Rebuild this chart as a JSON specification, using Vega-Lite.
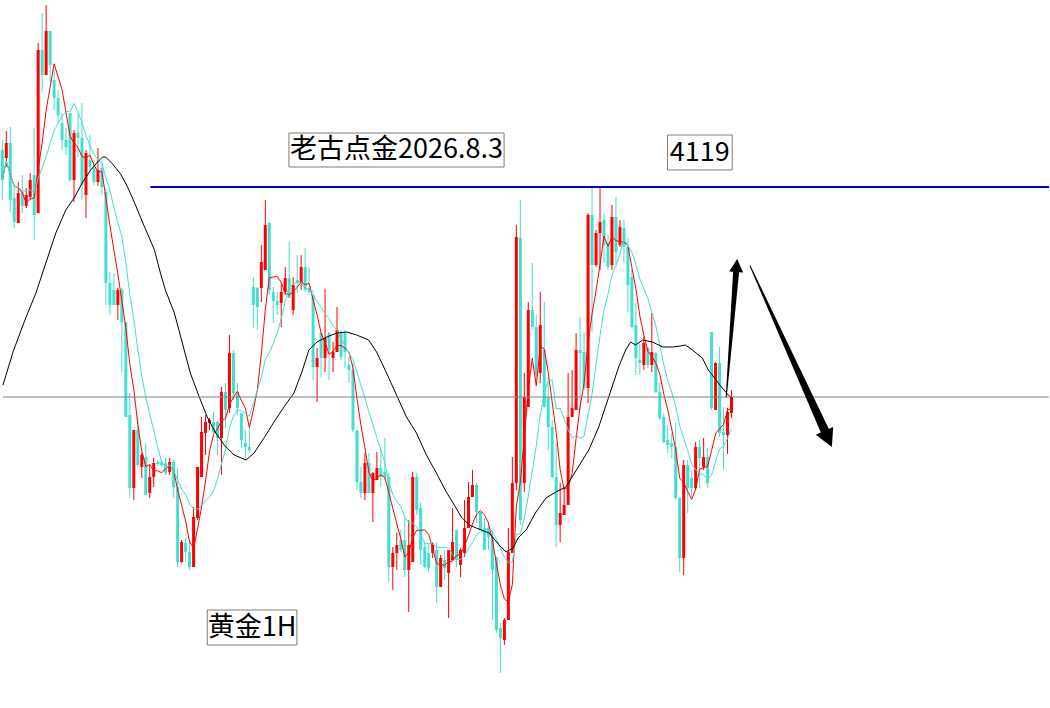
{
  "$schema": "https://vega.github.io/schema/vega-lite/v6.json",
  "autosize": {"type": "fit", "contains": "padding"},
  "width": 1050,
  "height": 708,
  "padding": 0,
  "background": "white",
  "config": {"view": {"stroke": null}},
  "datasets": {
    "candles": [
      {"i":0,"o":4137.5,"h":4142.5,"l":4112.5,"c":4122.5},
      {"i":1,"o":4133.5,"h":4147,"l":4129,"c":4141},
      {"i":2,"o":4141,"h":4149,"l":4106.5,"c":4112.5},
      {"i":3,"o":4113.5,"h":4119,"l":4098.5,"c":4101.5},
      {"i":4,"o":4101,"h":4121.5,"l":4101,"c":4116},
      {"i":5,"o":4116.5,"h":4125,"l":4106,"c":4109.5},
      {"i":6,"o":4109.5,"h":4118.5,"l":4108.5,"c":4115},
      {"i":7,"o":4114,"h":4126,"l":4112.5,"c":4122.5},
      {"i":8,"o":4125,"h":4148.5,"l":4092.5,"c":4105},
      {"i":9,"o":4106,"h":4191,"l":4106,"c":4187.5},
      {"i":10,"o":4187.5,"h":4206,"l":4166.5,"c":4175},
      {"i":11,"o":4175,"h":4210,"l":4175,"c":4197},
      {"i":12,"o":4197,"h":4197,"l":4171.5,"c":4180},
      {"i":13,"o":4172.5,"h":4177.5,"l":4157.5,"c":4163.5},
      {"i":14,"o":4163.5,"h":4167.5,"l":4151,"c":4155},
      {"i":15,"o":4151,"h":4156,"l":4137.5,"c":4142.5},
      {"i":16,"o":4142.5,"h":4148.5,"l":4135,"c":4139},
      {"i":17,"o":4156,"h":4156,"l":4121.5,"c":4122.5},
      {"i":18,"o":4122.5,"h":4147.5,"l":4111.5,"c":4146},
      {"i":19,"o":4146,"h":4156,"l":4134,"c":4143.5},
      {"i":20,"o":4143.5,"h":4161,"l":4112.5,"c":4120},
      {"i":21,"o":4115,"h":4137.5,"l":4103.5,"c":4136},
      {"i":22,"o":4132.5,"h":4145,"l":4126,"c":4129},
      {"i":23,"o":4128.5,"h":4132.5,"l":4120,"c":4121.5},
      {"i":24,"o":4121.5,"h":4138.5,"l":4119.5,"c":4127.5},
      {"i":25,"o":4128.5,"h":4132.5,"l":4115,"c":4119},
      {"i":26,"o":4116.5,"h":4118.5,"l":4060,"c":4071},
      {"i":27,"o":4071,"h":4076.5,"l":4055,"c":4060},
      {"i":28,"o":4067.5,"h":4076,"l":4060,"c":4060},
      {"i":29,"o":4060,"h":4068.5,"l":4052.5,"c":4067.5},
      {"i":30,"o":4067.5,"h":4068.5,"l":4026.5,"c":4051.5},
      {"i":31,"o":4051.5,"h":4051.5,"l":4004,"c":4004},
      {"i":32,"o":4005,"h":4016,"l":3963.5,"c":3968.5},
      {"i":33,"o":3968.5,"h":3997.5,"l":3962.5,"c":3997.5},
      {"i":34,"o":3997.5,"h":4004,"l":3978.5,"c":3980},
      {"i":35,"o":3979,"h":3986,"l":3973.5,"c":3985},
      {"i":36,"o":3984,"h":3991,"l":3965,"c":3965},
      {"i":37,"o":3966,"h":3980,"l":3963.5,"c":3974},
      {"i":38,"o":3974,"h":3983.5,"l":3969,"c":3981},
      {"i":39,"o":3981.5,"h":3982.5,"l":3979.5,"c":3980.5},
      {"i":40,"o":3981.5,"h":3982.5,"l":3979,"c":3980},
      {"i":41,"o":3981,"h":3983.5,"l":3975,"c":3976},
      {"i":42,"o":3976.5,"h":3983.5,"l":3975,"c":3981.5},
      {"i":43,"o":3981.5,"h":3982.5,"l":3963.5,"c":3969},
      {"i":44,"o":3969,"h":3978.5,"l":3929,"c":3931.5},
      {"i":45,"o":3931.5,"h":3942.5,"l":3931,"c":3941.5},
      {"i":46,"o":3941,"h":3943.5,"l":3931.5,"c":3936.5},
      {"i":47,"o":3936.5,"h":3942.5,"l":3927.5,"c":3929},
      {"i":48,"o":3929,"h":3959,"l":3929,"c":3954},
      {"i":49,"o":3953.5,"h":3979,"l":3952.5,"c":3979},
      {"i":50,"o":3974,"h":4004,"l":3974,"c":3996.5},
      {"i":51,"o":3996,"h":4005,"l":3985,"c":4001.5},
      {"i":52,"o":4001,"h":4003.5,"l":3997.5,"c":4002.5},
      {"i":53,"o":4001.5,"h":4006.5,"l":3996,"c":3996.5},
      {"i":54,"o":4001.5,"h":4002,"l":3985,"c":3993.5},
      {"i":55,"o":3993.5,"h":4019,"l":3975,"c":4016.5},
      {"i":56,"o":4016.5,"h":4021,"l":3998.5,"c":4007.5},
      {"i":57,"o":4008.5,"h":4045,"l":4006,"c":4036},
      {"i":58,"o":4036,"h":4037.5,"l":4012.5,"c":4016},
      {"i":59,"o":4016.5,"h":4021,"l":4005,"c":4008.5},
      {"i":60,"o":4006,"h":4006,"l":3988.5,"c":3992.5},
      {"i":61,"o":3991,"h":3997.5,"l":3983.5,"c":3989},
      {"i":62,"o":3989,"h":3998.5,"l":3986.5,"c":3987.5},
      {"i":63,"o":4069,"h":4074,"l":4048.5,"c":4060},
      {"i":64,"o":4068.5,"h":4069,"l":4047.5,"c":4059},
      {"i":65,"o":4068.5,"h":4090,"l":4061.5,"c":4081.5},
      {"i":66,"o":4077.5,"h":4112.5,"l":4077.5,"c":4100},
      {"i":67,"o":4101,"h":4101.5,"l":4065,"c":4067.5},
      {"i":68,"o":4066.5,"h":4069,"l":4051,"c":4062},
      {"i":69,"o":4062,"h":4066.5,"l":4055,"c":4060},
      {"i":70,"o":4061,"h":4071,"l":4049,"c":4066.5},
      {"i":71,"o":4066.5,"h":4079,"l":4065,"c":4073.5},
      {"i":72,"o":4073.5,"h":4091.5,"l":4063.5,"c":4063.5},
      {"i":73,"o":4057.5,"h":4074,"l":4055,"c":4070},
      {"i":74,"o":4072.5,"h":4085,"l":4066,"c":4071},
      {"i":75,"o":4071,"h":4085,"l":4067.5,"c":4079},
      {"i":76,"o":4079,"h":4088.5,"l":4066.5,"c":4067.5},
      {"i":77,"o":4068.5,"h":4079,"l":4065,"c":4066.5},
      {"i":78,"o":4065,"h":4067.5,"l":4022.5,"c":4029},
      {"i":79,"o":4029,"h":4038.5,"l":4011.5,"c":4033.5},
      {"i":80,"o":4046,"h":4046.5,"l":4024,"c":4033.5},
      {"i":81,"o":4033.5,"h":4068,"l":4026.5,"c":4043.5},
      {"i":82,"o":4046,"h":4046.5,"l":4022.5,"c":4037.5},
      {"i":83,"o":4033.5,"h":4041.5,"l":4026.5,"c":4036.5},
      {"i":84,"o":4036.5,"h":4059,"l":4036.5,"c":4047.5},
      {"i":85,"o":4046.5,"h":4047.5,"l":4032.5,"c":4034},
      {"i":86,"o":4046,"h":4047.5,"l":4028.5,"c":4036.5},
      {"i":87,"o":4030,"h":4034,"l":4021,"c":4027.5},
      {"i":88,"o":4027.5,"h":4031,"l":3996.5,"c":3997.5},
      {"i":89,"o":3997.5,"h":3997.5,"l":3967.5,"c":3971.5},
      {"i":90,"o":3971.5,"h":3979,"l":3963.5,"c":3966},
      {"i":91,"o":3966,"h":3986,"l":3962.5,"c":3981},
      {"i":92,"o":3981,"h":3986,"l":3966,"c":3966},
      {"i":93,"o":3966,"h":3976.5,"l":3951.5,"c":3976},
      {"i":94,"o":3972.5,"h":3986.5,"l":3972.5,"c":3978.5},
      {"i":95,"o":3978.5,"h":3987.5,"l":3969,"c":3974},
      {"i":96,"o":3976.5,"h":3993.5,"l":3972.5,"c":3974},
      {"i":97,"o":3974,"h":3976,"l":3921.5,"c":3929},
      {"i":98,"o":3929,"h":3939,"l":3917.5,"c":3936},
      {"i":99,"o":3936,"h":3946,"l":3927.5,"c":3940},
      {"i":100,"o":3942.5,"h":3947.5,"l":3936.5,"c":3937.5},
      {"i":101,"o":3942.5,"h":3954,"l":3924,"c":3927.5},
      {"i":102,"o":3927.5,"h":3952.5,"l":3906.5,"c":3940},
      {"i":103,"o":3931.5,"h":3976.5,"l":3931.5,"c":3974},
      {"i":104,"o":3974,"h":3976,"l":3955,"c":3957.5},
      {"i":105,"o":3958.5,"h":3961.5,"l":3930,"c":3937.5},
      {"i":106,"o":3939,"h":3941.5,"l":3928.5,"c":3929},
      {"i":107,"o":3936,"h":3941,"l":3926,"c":3928.5},
      {"i":108,"o":3936,"h":3941.5,"l":3933.5,"c":3940},
      {"i":109,"o":3937.5,"h":3941.5,"l":3911,"c":3919},
      {"i":110,"o":3919,"h":3935,"l":3919,"c":3933.5},
      {"i":111,"o":3932.5,"h":3937.5,"l":3922.5,"c":3928.5},
      {"i":112,"o":3926,"h":3937.5,"l":3903.5,"c":3937.5},
      {"i":113,"o":3932.5,"h":3958.5,"l":3932.5,"c":3941.5},
      {"i":114,"o":3947.5,"h":3947.5,"l":3929,"c":3932.5},
      {"i":115,"o":3930,"h":3938.5,"l":3924,"c":3937.5},
      {"i":116,"o":3936,"h":3962.5,"l":3934,"c":3948.5},
      {"i":117,"o":3948.5,"h":3971.5,"l":3948.5,"c":3964},
      {"i":118,"o":3964,"h":3977.5,"l":3964,"c":3970},
      {"i":119,"o":3970,"h":3971,"l":3951,"c":3956.5},
      {"i":120,"o":3956.5,"h":3956.5,"l":3947.5,"c":3947.5},
      {"i":121,"o":3948.5,"h":3953.5,"l":3937.5,"c":3937.5},
      {"i":122,"o":3948.5,"h":3951.5,"l":3937.5,"c":3944},
      {"i":123,"o":3944,"h":3947.5,"l":3902.5,"c":3927.5},
      {"i":124,"o":3934,"h":3934,"l":3896,"c":3897.5},
      {"i":125,"o":3898.5,"h":3901,"l":3876,"c":3893.5},
      {"i":126,"o":3892.5,"h":3903.5,"l":3890,"c":3902.5},
      {"i":127,"o":3902.5,"h":3948.5,"l":3902.5,"c":3936.5},
      {"i":128,"o":3936,"h":3984,"l":3936,"c":3971},
      {"i":129,"o":3971,"h":4100,"l":3967.5,"c":4094},
      {"i":130,"o":4093.5,"h":4112.5,"l":3950,"c":3952.5},
      {"i":131,"o":3971,"h":4026,"l":3966.5,"c":4014},
      {"i":132,"o":4009,"h":4061.5,"l":4009,"c":4057.5},
      {"i":133,"o":4057.5,"h":4081,"l":4047.5,"c":4049},
      {"i":134,"o":4049,"h":4055,"l":4023.5,"c":4025},
      {"i":135,"o":4026,"h":4066.5,"l":4021,"c":4050},
      {"i":136,"o":4037.5,"h":4061.5,"l":4008.5,"c":4009},
      {"i":137,"o":4014,"h":4024,"l":3987.5,"c":3999},
      {"i":138,"o":3999,"h":4002.5,"l":3973.5,"c":3974},
      {"i":139,"o":3974,"h":3991,"l":3939,"c":3950},
      {"i":140,"o":3950,"h":3971,"l":3941.5,"c":3956},
      {"i":141,"o":3955,"h":3969,"l":3955,"c":3960},
      {"i":142,"o":3960,"h":4026,"l":3960,"c":4004},
      {"i":143,"o":4004,"h":4027.5,"l":4004,"c":4008.5},
      {"i":144,"o":4007.5,"h":4046,"l":4007.5,"c":4037.5},
      {"i":145,"o":4037.5,"h":4054,"l":4007.5,"c":4036},
      {"i":146,"o":4036.5,"h":4046,"l":4017.5,"c":4018.5},
      {"i":147,"o":4018.5,"h":4106,"l":4011,"c":4105},
      {"i":148,"o":4105,"h":4119,"l":4046.5,"c":4080},
      {"i":149,"o":4080,"h":4097.5,"l":4079,"c":4096},
      {"i":150,"o":4096,"h":4118.5,"l":4077.5,"c":4101.5},
      {"i":151,"o":4102.5,"h":4106,"l":4081,"c":4090},
      {"i":152,"o":4091,"h":4095,"l":4077.5,"c":4079},
      {"i":153,"o":4080,"h":4110,"l":4077.5,"c":4104},
      {"i":154,"o":4104,"h":4114,"l":4080,"c":4086.5},
      {"i":155,"o":4090,"h":4102.5,"l":4089,"c":4099},
      {"i":156,"o":4098.5,"h":4102.5,"l":4081,"c":4089},
      {"i":157,"o":4089,"h":4093.5,"l":4056.5,"c":4070},
      {"i":158,"o":4074,"h":4077.5,"l":4048.5,"c":4049},
      {"i":159,"o":4050,"h":4061,"l":4025,"c":4033.5},
      {"i":160,"o":4032.5,"h":4041,"l":4025,"c":4031},
      {"i":161,"o":4030,"h":4044,"l":4027.5,"c":4041},
      {"i":162,"o":4038.5,"h":4039,"l":4028.5,"c":4030},
      {"i":163,"o":4030,"h":4056,"l":4026.5,"c":4036.5},
      {"i":164,"o":4036,"h":4036.5,"l":4016,"c":4016.5},
      {"i":165,"o":4016.5,"h":4021,"l":4002.5,"c":4003.5},
      {"i":166,"o":4004,"h":4006,"l":3991,"c":3991.5},
      {"i":167,"o":3992.5,"h":4000,"l":3986,"c":3990},
      {"i":168,"o":3991,"h":3996,"l":3983.5,"c":3989},
      {"i":169,"o":3989,"h":4001,"l":3962.5,"c":3963.5},
      {"i":170,"o":3963.5,"h":3964,"l":3926.5,"c":3933.5},
      {"i":171,"o":3933.5,"h":3982.5,"l":3925,"c":3980},
      {"i":172,"o":3980,"h":3982.5,"l":3956,"c":3968.5},
      {"i":173,"o":3973.5,"h":3977.5,"l":3964,"c":3968.5},
      {"i":174,"o":3968.5,"h":3991.5,"l":3967.5,"c":3989},
      {"i":175,"o":3989,"h":3992.5,"l":3968.5,"c":3983.5},
      {"i":176,"o":3979,"h":3993.5,"l":3977.5,"c":3984},
      {"i":177,"o":3984,"h":3988.5,"l":3968.5,"c":3971},
      {"i":178,"o":4046.5,"h":4046.5,"l":4007.5,"c":4008.5},
      {"i":179,"o":4007.5,"h":4031.5,"l":4007.5,"c":4031},
      {"i":180,"o":4031,"h":4039,"l":3994,"c":3996},
      {"i":181,"o":3996.5,"h":4009,"l":3977.5,"c":3995},
      {"i":182,"o":3995,"h":4008.5,"l":3985.5,"c":4006.5},
      {"i":183,"o":4006,"h":4017.5,"l":4003.5,"c":4014}
    ],
    "slowMa": [
      {"i":0.18,"v":4020},{"i":2.68,"v":4036.5},{"i":5.68,"v":4052.5},{"i":8.43,"v":4066},
      {"i":10.93,"v":4081},{"i":13.43,"v":4096},{"i":15.93,"v":4107.5},{"i":18.18,"v":4114},
      {"i":20.18,"v":4121.5},{"i":22.18,"v":4127.5},{"i":23.93,"v":4131.5},{"i":25.18,"v":4134},
      {"i":25.93,"v":4134},{"i":27.68,"v":4130.5},{"i":29.68,"v":4125.5},{"i":31.18,"v":4120},
      {"i":32.68,"v":4113.5},{"i":35.18,"v":4101.5},{"i":38.18,"v":4087.5},{"i":39.68,"v":4076},
      {"i":40.93,"v":4067.5},{"i":43.18,"v":4056},{"i":45.18,"v":4041},{"i":47.18,"v":4026},
      {"i":49.43,"v":4014},{"i":51.43,"v":4004},{"i":53.43,"v":3996.5},{"i":55.68,"v":3990},
      {"i":58.18,"v":3985},{"i":61.18,"v":3982.5},{"i":63.18,"v":3986},{"i":65.68,"v":3993.5},
      {"i":68.18,"v":4001.5},{"i":70.68,"v":4009},{"i":73.18,"v":4016},{"i":75.18,"v":4026.5},
      {"i":76.93,"v":4037.5},{"i":78.93,"v":4041.5},{"i":81.43,"v":4044},{"i":83.93,"v":4046},
      {"i":86.43,"v":4046.5},{"i":88.93,"v":4045},{"i":91.93,"v":4042.5},{"i":93.93,"v":4036.5},
      {"i":96.43,"v":4026},{"i":98.93,"v":4015},{"i":101.43,"v":4004},{"i":103.93,"v":3996},
      {"i":106.43,"v":3985},{"i":108.93,"v":3976},{"i":111.43,"v":3966.5},{"i":113.43,"v":3960},
      {"i":115.18,"v":3954},{"i":117.18,"v":3950},{"i":118.93,"v":3948.5},{"i":122.18,"v":3946},
      {"i":124.68,"v":3940},{"i":126.43,"v":3936.5},{"i":128.18,"v":3938.5},{"i":129.43,"v":3943.5},
      {"i":131.43,"v":3947.5},{"i":133.93,"v":3956.5},{"i":136.43,"v":3963.5},{"i":138.93,"v":3966.5},
      {"i":141.43,"v":3969},{"i":143.93,"v":3977},{"i":147.18,"v":3987.5},{"i":149.68,"v":3999},
      {"i":152.18,"v":4014},{"i":154.68,"v":4029},{"i":156.43,"v":4037.5},{"i":157.68,"v":4041.5},
      {"i":158.93,"v":4040},{"i":160.68,"v":4042.5},{"i":163.18,"v":4041.5},{"i":165.68,"v":4039},
      {"i":168.18,"v":4039},{"i":170.18,"v":4039.5},{"i":171.43,"v":4040},{"i":173.18,"v":4037.5},
      {"i":175.68,"v":4033.5},{"i":177.18,"v":4027.5},{"i":178.93,"v":4023},{"i":180.68,"v":4018.5},
      {"i":182.18,"v":4015},{"i":183.43,"v":4013}
    ],
    "levels": [
      {"name":"current","i":0.175,"i2":262.675,"p":4014},
      {"name":"resistance","i":37.175,"i2":262.675,"p":4119}
    ],
    "labels": [
      {"text":"老古点金2026.8.3","i":71.925,"i2":125.925,"top":4146,"bottom":4129,"ci":98.925,"cp":4137.5},
      {"text":"4119","i":166.925,"i2":183.175,"top":4145,"bottom":4127.5,"ci":175.05,"cp":4136.25},
      {"text":"黄金1H","i":51.425,"i2":73.925,"top":3907.5,"bottom":3890,"ci":62.675,"cp":3898.75}
    ],
    "arrows": [
      {"arrow":"up","t":0,"i":181.675,"p":4014},
      {"arrow":"up","t":1,"i":184.175,"p":4077},
      {"arrow":"down","t":0,"i":187.675,"p":4079.5},
      {"arrow":"down","t":1,"i":206.675,"p":3996}
    ],
    "heads": [
      {"arrow":"up","i":184.425,"p":4083},
      {"arrow":"down","i":208.175,"p":3989}
    ]
  },
  "layer": [
    {
      "data": {"name": "candles"},
      "mark": {"type": "rule", "strokeWidth": 1},
      "encoding": {
        "x": {"field": "i", "type": "quantitative", "scale": {"domain": [0.175, 262.675], "nice": false, "zero": false}, "axis": null},
        "y": {"field": "l", "type": "quantitative", "scale": {"domain": [3858.5, 4212.5], "nice": false, "zero": false}, "axis": null},
        "y2": {"field": "h"},
        "color": {"condition": {"test": "datum.c >= datum.o", "value": "#ff0000"}, "value": "#40e0d0"}
      }
    },
    {
      "data": {"name": "candles"},
      "mark": {"type": "rule", "strokeWidth": 3},
      "encoding": {
        "x": {"field": "i", "type": "quantitative"},
        "y": {"field": "o", "type": "quantitative"},
        "y2": {"field": "c"},
        "color": {"condition": {"test": "datum.c >= datum.o", "value": "#ff0000"}, "value": "#40e0d0"}
      }
    },
    {
      "data": {"name": "candles"},
      "transform": [
        {"window": [{"op": "mean", "field": "c", "as": "ma5"}], "frame": [-4, 0], "sort": [{"field": "i"}]}
      ],
      "mark": {"type": "line", "stroke": "#ff0000", "strokeWidth": 1},
      "encoding": {
        "x": {"field": "i", "type": "quantitative"},
        "y": {"field": "ma5", "type": "quantitative"}
      }
    },
    {
      "data": {"name": "candles"},
      "transform": [
        {"window": [{"op": "mean", "field": "c", "as": "ma10"}], "frame": [-9, 0], "sort": [{"field": "i"}]}
      ],
      "mark": {"type": "line", "stroke": "#40e0d0", "strokeWidth": 1},
      "encoding": {
        "x": {"field": "i", "type": "quantitative"},
        "y": {"field": "ma10", "type": "quantitative"}
      }
    },
    {
      "data": {"name": "slowMa"},
      "mark": {"type": "line", "stroke": "#000000", "strokeWidth": 1},
      "encoding": {
        "x": {"field": "i", "type": "quantitative"},
        "y": {"field": "v", "type": "quantitative"}
      }
    },
    {
      "data": {"name": "levels"},
      "mark": {"type": "rule"},
      "encoding": {
        "x": {"field": "i", "type": "quantitative"},
        "x2": {"field": "i2"},
        "y": {"field": "p", "type": "quantitative"},
        "color": {"condition": {"test": "datum.name === 'resistance'", "value": "#0000cd"}, "value": "#808080"},
        "strokeWidth": {"condition": {"test": "datum.name === 'resistance'", "value": 2}, "value": 1}
      }
    },
    {
      "data": {"name": "labels"},
      "mark": {"type": "rect", "fill": "#ffffff", "stroke": "#857b6f", "strokeWidth": 1},
      "encoding": {
        "x": {"field": "i", "type": "quantitative"},
        "x2": {"field": "i2"},
        "y": {"field": "top", "type": "quantitative"},
        "y2": {"field": "bottom"}
      }
    },
    {
      "data": {"name": "labels"},
      "mark": {"type": "text", "font": "Noto Sans CJK SC", "fontSize": 27, "color": "#000000", "align": "center", "baseline": "middle"},
      "encoding": {
        "x": {"field": "ci", "type": "quantitative"},
        "y": {"field": "cp", "type": "quantitative"},
        "text": {"field": "text"}
      }
    },
    {
      "data": {"name": "arrows"},
      "transform": [{"filter": "datum.arrow === 'up'"}],
      "mark": {"type": "trail", "color": "#000000"},
      "encoding": {
        "x": {"field": "i", "type": "quantitative"},
        "y": {"field": "p", "type": "quantitative"},
        "order": {"field": "t"},
        "size": {"field": "t", "type": "quantitative", "scale": {"domain": [0, 1], "range": [1, 6]}, "legend": null}
      }
    },
    {
      "data": {"name": "arrows"},
      "transform": [{"filter": "datum.arrow === 'down'"}],
      "mark": {"type": "trail", "color": "#000000"},
      "encoding": {
        "x": {"field": "i", "type": "quantitative"},
        "y": {"field": "p", "type": "quantitative"},
        "order": {"field": "t"},
        "size": {"field": "t", "type": "quantitative", "scale": {"domain": [0, 1], "range": [1, 9]}, "legend": null}
      }
    },
    {
      "data": {"name": "heads"},
      "transform": [{"filter": "datum.arrow === 'up'"}],
      "mark": {"type": "point", "filled": true, "color": "#000000", "opacity": 1, "shape": "M0,0L0.7,1.3L-0.7,1.3Z", "size": 400, "angle": 4.6},
      "encoding": {
        "x": {"field": "i", "type": "quantitative"},
        "y": {"field": "p", "type": "quantitative"}
      }
    },
    {
      "data": {"name": "heads"},
      "transform": [{"filter": "datum.arrow === 'down'"}],
      "mark": {"type": "point", "filled": true, "color": "#000000", "opacity": 1, "shape": "M0,0L0.7,1.3L-0.7,1.3Z", "size": 740, "angle": 155.6},
      "encoding": {
        "x": {"field": "i", "type": "quantitative"},
        "y": {"field": "p", "type": "quantitative"}
      }
    }
  ],
  "resolve": {"scale": {"size": "independent"}}
}
